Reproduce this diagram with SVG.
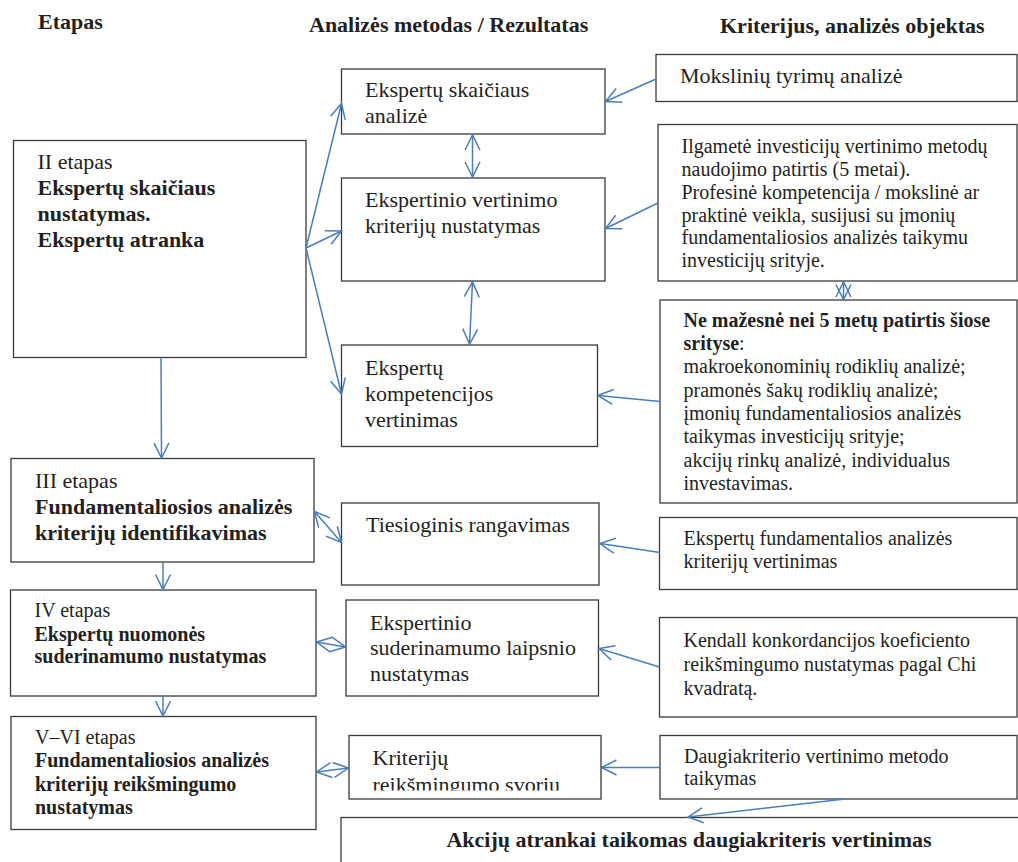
<svg xmlns="http://www.w3.org/2000/svg" width="1018" height="862" viewBox="0 0 1018 862">
<style>
.box{fill:#ffffff;stroke:#3a3a3a;stroke-width:1.3}
.t{font-family:"Liberation Serif","Times New Roman",serif;fill:#231f20}
.s22{font-size:22px}
.s20{font-size:20px}
.b{font-weight:bold}
.con{fill:none;stroke:#4a7ebb;stroke-width:1.5}
</style>
<defs>
<marker id="ah" markerUnits="userSpaceOnUse" markerWidth="20" markerHeight="18" viewBox="0 0 20 18" refX="16" refY="9" orient="auto-start-reverse">
<path d="M1,1.5 L16,9 L1,16.5" fill="none" stroke="#4a7ebb" stroke-width="1.5"/>
</marker>
<clipPath id="clipM6"><rect x="349" y="735" width="252" height="55.5"/></clipPath>
</defs>
<rect width="1018" height="862" fill="#ffffff"/>

<g id="headers">
<text class="t s22 b" x="38" y="29">Etapas</text>
<text class="t s22 b" x="309" y="31.5">Analizės metodas / Rezultatas</text>
<text class="t s22 b" x="720" y="33">Kriterijus, analizės objektas</text>
</g>

<g id="stage2">
<rect class="box" x="13.5" y="140.5" width="292.5" height="217"/>
<text class="t s22" x="37.5" y="169.3">II etapas</text>
<text class="t s22 b" x="37.5" y="195">Ekspertų skaičiaus</text>
<text class="t s22 b" x="37.5" y="220.5">nustatymas.</text>
<text class="t s22 b" x="37.5" y="246.5">Ekspertų atranka</text>
</g>
<g id="stage3">
<rect class="box" x="11" y="458.5" width="303" height="103.5"/>
<text class="t s22" x="35" y="487.7">III etapas</text>
<text class="t s22 b" x="35" y="514">Fundamentaliosios analizės</text>
<text class="t s22 b" x="35" y="539.5">kriterijų identifikavimas</text>
</g>
<g id="stage4">
<rect class="box" x="10.5" y="590" width="305.5" height="106"/>
<text class="t s20" x="34.5" y="616.7">IV etapas</text>
<text class="t s20 b" x="34.5" y="640.7">Ekspertų nuomonės</text>
<text class="t s20 b" x="34.5" y="663.3">suderinamumo nustatymas</text>
</g>
<g id="stage56">
<rect class="box" x="11" y="716.5" width="305" height="113"/>
<text class="t s20" x="35" y="744">V–VI etapas</text>
<text class="t s20 b" x="35" y="767">Fundamentaliosios analizės</text>
<text class="t s20 b" x="35" y="790.7">kriterijų reikšmingumo</text>
<text class="t s20 b" x="35" y="814">nustatymas</text>
</g>

<g id="m1">
<rect class="box" x="341.5" y="69" width="263.5" height="65"/>
<text class="t s22" x="365" y="97.3">Ekspertų skaičiaus</text>
<text class="t s22" x="365" y="123.3">analizė</text>
</g>
<g id="m2">
<rect class="box" x="341.5" y="178" width="263.5" height="103"/>
<text class="t s22" x="365" y="206.7">Ekspertinio vertinimo</text>
<text class="t s22" x="365" y="233.3">kriterijų nustatymas</text>
</g>
<g id="m3">
<rect class="box" x="341.5" y="345" width="256" height="101.5"/>
<text class="t s22" x="365" y="375">Ekspertų</text>
<text class="t s22" x="365" y="400.7">kompetencijos</text>
<text class="t s22" x="365" y="426.7">vertinimas</text>
</g>
<g id="m4">
<rect class="box" x="341.5" y="503" width="257.5" height="82"/>
<text class="t s22" x="366" y="532.3">Tiesioginis rangavimas</text>
</g>
<g id="m5">
<rect class="box" x="346" y="600" width="252.5" height="96"/>
<text class="t s22" x="370" y="630">Ekspertinio</text>
<text class="t s22" x="370" y="655">suderinamumo laipsnio</text>
<text class="t s22" x="370" y="681">nustatymas</text>
</g>
<g id="m6">
<rect class="box" x="349" y="735.5" width="252" height="63.5"/>
<text class="t s22" x="372.5" y="765">Kriterijų</text>
<text class="t s22" x="372.5" y="792" clip-path="url(#clipM6)">reikšmingumo svoriu</text>
</g>
<g id="final">
<rect class="box" x="341" y="817.5" width="700" height="80"/>
<text class="t s22 b" x="689" y="847" text-anchor="middle">Akcijų atrankai taikomas daugiakriteris vertinimas</text>
</g>

<g id="r1">
<rect class="box" x="656" y="54.5" width="361" height="47"/>
<text class="t s22" x="680" y="83.3">Mokslinių tyrimų analizė</text>
</g>
<g id="r2">
<rect class="box" x="658" y="124.5" width="359" height="156.5"/>
<text class="t s20" x="681.5" y="153.3">Ilgametė investicijų vertinimo metodų</text>
<text class="t s20" x="681.5" y="176">naudojimo patirtis (5 metai).</text>
<text class="t s20" x="681.5" y="198.7">Profesinė kompetencija / mokslinė ar</text>
<text class="t s20" x="681.5" y="221.5">praktinė veikla, susijusi su įmonių</text>
<text class="t s20" x="681.5" y="244.2">fundamentaliosios analizės taikymu</text>
<text class="t s20" x="681.5" y="267">investicijų srityje.</text>
</g>
<g id="r3">
<rect class="box" x="660" y="300" width="357" height="203"/>
<text class="t s20 b" x="683.5" y="326.7">Ne mažesnė nei 5 metų patirtis šiose</text>
<text class="t s20" x="683.5" y="350"><tspan font-weight="bold">srityse</tspan>:</text>
<text class="t s20" x="683.5" y="373.3">makroekonominių rodiklių analizė;</text>
<text class="t s20" x="683.5" y="396.6">pramonės šakų rodiklių analizė;</text>
<text class="t s20" x="683.5" y="420">įmonių fundamentaliosios analizės</text>
<text class="t s20" x="683.5" y="443.3">taikymas investicijų srityje;</text>
<text class="t s20" x="683.5" y="466.7">akcijų rinkų analizė, individualus</text>
<text class="t s20" x="683.5" y="490">investavimas.</text>
</g>
<g id="r4">
<rect class="box" x="659.5" y="517.5" width="357.5" height="72"/>
<text class="t s20" x="683.5" y="545">Ekspertų fundamentalios analizės</text>
<text class="t s20" x="683.5" y="568.3">kriterijų vertinimas</text>
</g>
<g id="r5">
<rect class="box" x="659.5" y="617.5" width="357.5" height="99.5"/>
<text class="t s20" x="683.5" y="647">Kendall konkordancijos koeficiento</text>
<text class="t s20" x="683.5" y="671">reikšmingumo nustatymas pagal Chi</text>
<text class="t s20" x="683.5" y="695">kvadratą.</text>
</g>
<g id="r6">
<rect class="box" x="660" y="735.5" width="357" height="63.5"/>
<text class="t s20" x="684" y="763.3">Daugiakriterio vertinimo metodo</text>
<text class="t s20" x="684" y="785">taikymas</text>
</g>

<g id="connectors">
<path class="con" d="M306,248 L341.5,103.5" marker-end="url(#ah)"/>
<path class="con" d="M306,248 L341.5,231" marker-end="url(#ah)"/>
<path class="con" d="M306,248 L341.5,394" marker-end="url(#ah)"/>
<path class="con" d="M656,79 L605.5,101.5" marker-end="url(#ah)"/>
<path class="con" d="M658,203 L605.5,228.5" marker-end="url(#ah)"/>
<path class="con" d="M660,401.5 L598,395.5" marker-end="url(#ah)"/>
<path class="con" d="M660,552.5 L600,543.5" marker-end="url(#ah)"/>
<path class="con" d="M659.5,667 L599,648.5" marker-end="url(#ah)"/>
<path class="con" d="M660,767.5 L601.5,767.5" marker-end="url(#ah)"/>
<path class="con" d="M845,799 L688,817" marker-end="url(#ah)"/>
<path class="con" d="M472.5,135 L472.5,177" marker-start="url(#ah)" marker-end="url(#ah)"/>
<path class="con" d="M472.5,282 L469.5,344" marker-start="url(#ah)" marker-end="url(#ah)"/>
<path class="con" d="M843.5,282 L843.5,299.5" marker-start="url(#ah)" marker-end="url(#ah)"/>
<path class="con" d="M161,357.5 L161.5,458" marker-end="url(#ah)"/>
<path class="con" d="M163,562 L163,589.5" marker-end="url(#ah)"/>
<path class="con" d="M163,696 L163,716" marker-end="url(#ah)"/>
<path class="con" d="M314.5,511.5 L341.5,542.5" marker-start="url(#ah)" marker-end="url(#ah)"/>
<path class="con" d="M316.5,642 L345.5,647" marker-start="url(#ah)" marker-end="url(#ah)"/>
<path class="con" d="M316.5,772 L348.5,768" marker-start="url(#ah)" marker-end="url(#ah)"/>
</g>
</svg>
